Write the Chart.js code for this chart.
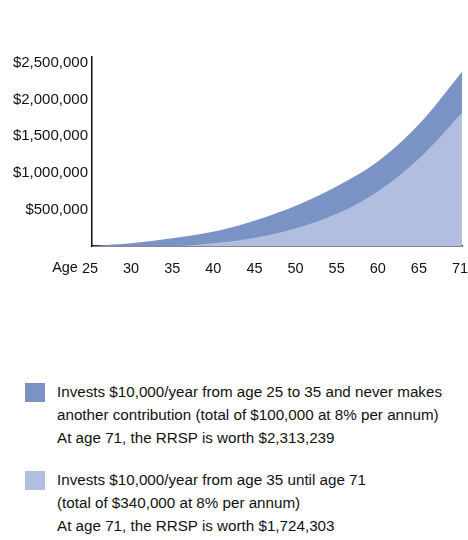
<!DOCTYPE html>
<html lang="en">
<head>
    <meta charset="UTF-8">
    <title>RRSP Growth</title>
    <style>
        * {
            margin: 0;
            padding: 0;
            box-sizing: border-box;
        }

        body {
            width: 468px;
            height: 540px;
            background: #ffffff;
            font-family: 'Liberation Sans', Arial, sans-serif;
            color: #111111;
            position: relative;
            overflow: hidden;
        }

        .chart-box {
            position: absolute;
            left: 0;
            top: 0;
            width: 468px;
            height: 300px;
        }

        .legend {
            position: absolute;
            left: 0;
            top: 380px;
            width: 468px;
        }

        .legend-item {
            position: relative;
            padding-left: 57px;
            font-size: 15.2px;
            line-height: 23px;
            margin-bottom: 19px;
        }

        .swatch {
            position: absolute;
            left: 25px;
            top: 3px;
            width: 20px;
            height: 19px;
        }
    </style>
</head>
<body>
    <div class="chart-box">
        <canvas id="rrspChart"></canvas>
    </div>

    <div class="legend">
        <div class="legend-item">
            <span class="swatch" style="background:#7a93c4"></span>
            Invests $10,000/year from age 25 to 35 and never makes<br>
            another contribution (total of $100,000 at 8% per annum)<br>
            At age 71, the RRSP is worth $2,313,239
        </div>
        <div class="legend-item">
            <span class="swatch" style="background:#b2bedf"></span>
            Invests $10,000/year from age 35 until age 71<br>
            (total of $340,000 at 8% per annum)<br>
            At age 71, the RRSP is worth $1,724,303
        </div>
    </div>

    <script src="https://cdn.jsdelivr.net/npm/chart.js"></script>
    <script>
        // Ages shown on the x axis
        const ages = ['25', '30', '35', '40', '45', '50', '55', '60', '65', '71'];

        // Early saver: $10,000/year from 25 to 35
        const earlySaver = [0, 40000, 110000, 200000, 355000, 560000, 830000, 1175000, 1690000, 2380000];

        // Late saver: $10,000/year from 35 to 71
        const lateSaver = [0, 0, 0, 40000, 115000, 250000, 450000, 765000, 1220000, 1820000];

        const yTicks = [500000, 1000000, 1500000, 2000000, 2500000];

        const money = v => '$' + v.toLocaleString('en-US');

        const labelShift = -2;

        // draws the "Age" word in front of the first x label
        const ageLabel = {
            id: 'ageLabel',
            afterDraw(chart) {
                const x = chart.scales.x;
                const c = chart.ctx;
                c.save();
                c.font = '14.5px "Liberation Sans", Arial, sans-serif';
                c.fillStyle = '#111111';
                c.textAlign = 'right';
                c.textBaseline = 'middle';
                const first = x.getPixelForValue(0) + labelShift;
                const w = c.measureText(ages[0]).width;
                c.fillText('Age', first - w / 2 - 4, 268);
                c.restore();
            }
        };

        const ctx = document.getElementById('rrspChart').getContext('2d');
        const rrspChart = new Chart(ctx, {
            type: 'line',
            data: {
                labels: ages,
                datasets: [
                    {
                        label: 'Invests from age 35 until age 71',
                        data: lateSaver,
                        backgroundColor: '#b2bedf',
                        borderWidth: 0,
                        pointRadius: 0,
                        fill: 'origin',
                        cubicInterpolationMode: 'monotone',
                        order: 0
                    },
                    {
                        label: 'Invests from age 25 to 35',
                        data: earlySaver,
                        backgroundColor: '#7a93c4',
                        borderWidth: 0,
                        pointRadius: 0,
                        fill: 'origin',
                        cubicInterpolationMode: 'monotone',
                        order: 1
                    }
                ]
            },
            options: {
                responsive: true,
                maintainAspectRatio: false,
                animation: false,
                layout: {
                    padding: { top: 57, right: 6, left: 0, bottom: 0 }
                },
                scales: {
                    x: {
                        grid: { display: false, drawTicks: false },
                        border: { color: '#111111', width: 1.5 },
                        ticks: {
                            color: '#111111',
                            font: { family: '"Liberation Sans", Arial, sans-serif', size: 14.5 },
                            padding: 14,
                            labelOffset: labelShift,
                            maxRotation: 0,
                            autoSkip: false
                        },
                        afterFit(scale) {
                            scale.height = 54;
                            scale.paddingLeft = 0;
                            scale.paddingRight = 0;
                        }
                    },
                    y: {
                        min: 0,
                        max: 2580000,
                        grid: { display: false, drawTicks: false },
                        border: { color: '#111111', width: 1.5 },
                        afterBuildTicks(scale) {
                            scale.ticks = yTicks.map(v => ({ value: v }));
                        },
                        afterFit(scale) { scale.width = 92; },
                        ticks: {
                            color: '#111111',
                            font: { family: '"Liberation Sans", Arial, sans-serif', size: 15 },
                            padding: 4,
                            callback: v => money(v)
                        }
                    }
                },
                plugins: {
                    legend: { display: false },
                    tooltip: { enabled: false }
                }
            },
            plugins: [ageLabel]
        });
    </script>
</body>
</html>
